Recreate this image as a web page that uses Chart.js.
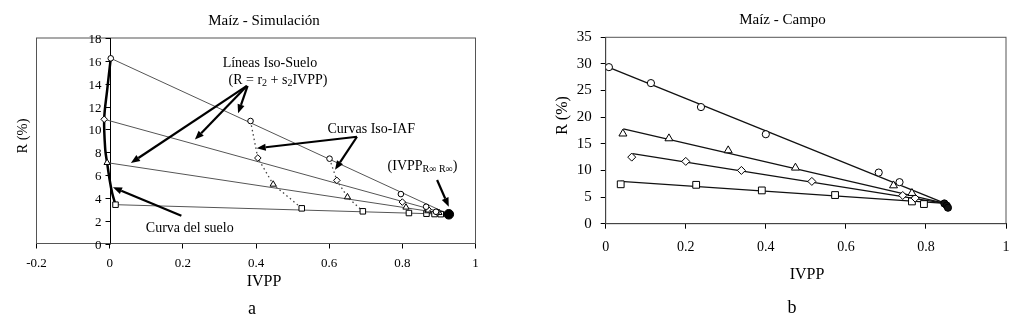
<!DOCTYPE html>
<html>
<head>
<meta charset="utf-8">
<script src="https://cdn.jsdelivr.net/npm/chart.js"></script>
<style>
  body { margin: 0; background: #fff; width: 1022px; height: 324px; overflow: hidden; position: relative; }
  canvas { position: absolute; top: 0; }
  #simCanvas { left: 0; }
  #campoCanvas { left: 510px; }
</style>
</head>
<body>
<canvas id="simCanvas" width="510" height="324"></canvas>
<canvas id="campoCanvas" width="512" height="324"></canvas>
<script>
// ---------------- data: a) Maiz - Simulacion ----------------
const simTicksX = [-0.2, 1, 0.2];   // min, max, step
const simTicksY = [0, 18, 2];

const simCircX = [0.003, 0.385, 0.601, 0.796, 0.865, 0.892];
const simCircY = [16.22, 10.73, 7.43, 4.33, 3.22, 2.78];
const simDiamX = [-0.015, 0.405, 0.621, 0.800, 0.870, 0.895];
const simDiamY = [10.88, 7.49, 5.53, 3.63, 3.00, 2.75];
const simTriX = [-0.007, 0.447, 0.650, 0.810, 0.870, 0.900];
const simTriY = [7.08, 5.18, 4.07, 3.17, 2.85, 2.70];
const simSqX = [0.016, 0.525, 0.692, 0.818, 0.866, 0.888, 0.905];
const simSqY = [3.40, 3.08, 2.82, 2.67, 2.61, 2.58, 2.57];
const simEndX = [0.927];   // (IVPP R-inf, R-inf)
const simEndY = [2.56];

// curva del suelo
const soilX = [0.003, -0.007, -0.015, -0.012, -0.007, 0.000, 0.007, 0.016];
const soilY = [16.22, 13.4, 10.88, 8.2, 7.08, 5.56, 4.40, 3.40];
// curvas iso-IAF (dotted)
const iaf1X = [0.385, 0.405, 0.447, 0.525];
const iaf1Y = [10.73, 7.49, 5.18, 3.08];
const iaf2X = [0.601, 0.621, 0.650, 0.692];
const iaf2Y = [7.43, 5.53, 4.07, 2.82];

// ---------------- data: b) Maiz - Campo ----------------
const campoTicksX = [0, 1, 0.2];
const campoTicksY = [0, 35, 5];

const campoCircX = [0.008, 0.113, 0.238, 0.400, 0.682, 0.734];
const campoCircY = [29.4, 26.4, 21.9, 16.8, 9.6, 7.8];
const campoTriX = [0.043, 0.158, 0.306, 0.474, 0.719, 0.765];
const campoTriY = [16.9, 16.0, 13.75, 10.5, 7.17, 5.74];
const campoDiamX = [0.065, 0.200, 0.339, 0.515, 0.742, 0.773];
const campoDiamY = [12.5, 11.7, 10.0, 7.94, 5.3, 4.8];
const campoSqX = [0.0375, 0.226, 0.390, 0.573, 0.765, 0.795];
const campoSqY = [7.4, 7.3, 6.25, 5.38, 4.18, 3.69];
const campoEndX = [0.846, 0.852, 0.855];
const campoEndY = [3.8, 3.4, 3.0];
// fitted lines: start x, start y (all end at the common point)
const campoFitX0 = [0.0, 0.044, 0.067, 0.0375];
const campoFitY0 = [29.6, 17.8, 13.15, 7.94];
const campoFitEnd = [0.848, 3.8];

// ---------------- helpers ----------------
const SERIF = "'Liberation Serif', 'Times New Roman', serif";
const pts = (xs, ys) => xs.map((x, i) => ({ x: x, y: ys[i] }));
const fmt = v => String(Math.round(v * 100) / 100 || 0);

const markers = (xs, ys, style, r, fill) => ({
  data: pts(xs, ys), showLine: false, order: 0,
  pointStyle: style, pointRadius: r,
  pointBackgroundColor: fill || '#fff', pointBorderColor: '#000', pointBorderWidth: 1
});
const line = (xs, ys, color, w, dash, tension) => ({
  data: pts(xs, ys), showLine: true, order: 1,
  borderColor: color, borderWidth: w, borderDash: dash || [],
  pointRadius: 0, tension: tension || 0, fill: false
});

function arrow(ctx, x1, y1, x2, y2) {
  const a = Math.atan2(y2 - y1, x2 - x1);
  const L = 9, W = 3.6;
  const bx = x2 - L * Math.cos(a), by = y2 - L * Math.sin(a);
  ctx.beginPath(); ctx.moveTo(x1, y1); ctx.lineTo(bx, by); ctx.stroke();
  ctx.beginPath(); ctx.moveTo(x2, y2);
  ctx.lineTo(bx + W * Math.sin(a), by - W * Math.cos(a));
  ctx.lineTo(bx - W * Math.sin(a), by + W * Math.cos(a));
  ctx.closePath(); ctx.fill();
}

// parts: [text, size, dy]
function richText(ctx, parts, cx, cy) {
  let total = 0;
  parts.forEach(p => { ctx.font = p[1] + 'px ' + SERIF; total += ctx.measureText(p[0]).width; });
  let x = cx - total / 2;
  ctx.textAlign = 'left'; ctx.textBaseline = 'middle';
  parts.forEach(p => {
    ctx.font = p[1] + 'px ' + SERIF;
    ctx.fillText(p[0], x, cy + p[2]);
    x += ctx.measureText(p[0]).width;
  });
}

function txt(ctx, s, x, y, size, rot) {
  ctx.save();
  ctx.font = size + 'px ' + SERIF;
  ctx.fillStyle = '#000';
  ctx.textAlign = 'center'; ctx.textBaseline = 'middle';
  ctx.translate(x, y);
  if (rot) ctx.rotate(rot);
  ctx.fillText(s, 0, 0);
  ctx.restore();
}

function frame(chart) {
  const a = chart.chartArea, ctx = chart.ctx;
  ctx.save();
  ctx.strokeStyle = '#555'; ctx.lineWidth = 1;
  ctx.strokeRect(a.left, a.top, a.right - a.left, a.bottom - a.top);
  ctx.restore();
}

const axisBase = (t, size, pad) => ({
  type: 'linear', min: t[0], max: t[1],
  ticks: { stepSize: t[2], color: '#000', font: { family: SERIF, size: size }, padding: pad, callback: fmt },
  grid: { display: true, drawOnChartArea: false, drawTicks: true, tickLength: 5, color: '#000' },
  border: { display: true, color: '#000', width: 1 }
});

// ---------------- annotations (a), in data units ----------------
const simArrows = [
  [0.375, 13.8, 0.058, 7.05],
  [0.375, 13.8, 0.233, 9.10],
  [0.377, 13.8, 0.351, 11.4],
  [0.676, 9.35, 0.402, 8.34],
  [0.676, 9.35, 0.616, 6.45],
  [0.895, 5.56, 0.927, 3.22],
  [0.196, 2.43, 0.009, 4.92]
];

const simDecor = {
  id: 'simDecor',
  beforeDatasetsDraw(chart) {
    frame(chart);
    // y axis sits at x = 0: ticks and labels to its left
    const ctx = chart.ctx, sx = chart.scales.x, sy = chart.scales.y;
    const x0 = Math.round(sx.getPixelForValue(0)) + 0.5;
    ctx.save();
    ctx.strokeStyle = '#000'; ctx.lineWidth = 1;
    ctx.beginPath(); ctx.moveTo(x0, chart.chartArea.top); ctx.lineTo(x0, chart.chartArea.bottom); ctx.stroke();
    ctx.font = '13px ' + SERIF; ctx.fillStyle = '#000';
    ctx.textAlign = 'right'; ctx.textBaseline = 'middle';
    sy.ticks.forEach(t => {
      const y = Math.round(sy.getPixelForValue(t.value)) + 0.5;
      ctx.beginPath(); ctx.moveTo(x0, y); ctx.lineTo(x0 - 5, y); ctx.stroke();
      ctx.fillText(fmt(t.value), x0 - 9, y + 1);
    });
    ctx.restore();
  },
  afterDraw(chart) {
    const ctx = chart.ctx, sx = chart.scales.x, sy = chart.scales.y;
    const px = v => sx.getPixelForValue(v), py = v => sy.getPixelForValue(v);
    ctx.save();
    ctx.fillStyle = '#000'; ctx.strokeStyle = '#000'; ctx.lineWidth = 2.2;
    simArrows.forEach(a => arrow(ctx, px(a[0]), py(a[1]), px(a[2]), py(a[3])));
    ctx.fillStyle = '#000';
    richText(ctx, [['Líneas Iso-Suelo', 14, 0]], px(0.438), py(15.81));
    richText(ctx, [['(R = r', 14, 0], ['2', 10, 3], [' + s', 14, 0], ['2', 10, 3], ['IVPP)', 14, 0]], px(0.46), py(14.32));
    richText(ctx, [['Curvas Iso-IAF', 14, 0]], px(0.715), py(10.03));
    richText(ctx, [['(IVPP', 14, 0], ['R\u221E R\u221E', 10, 3], [')', 14, 0]], px(0.855), py(6.72));
    richText(ctx, [['Curva del suelo', 14, 0]], px(0.219), py(1.33));
    ctx.restore();
    txt(ctx, 'Maíz - Simulación', 264, 21.5, 15);
    txt(ctx, 'IVPP', 264, 281.5, 16);
    txt(ctx, 'R (%)', 23.5, 136, 14.5, -Math.PI / 2);
    txt(ctx, 'a', 252, 309, 18);
  }
};

const campoDecor = {
  id: 'campoDecor',
  beforeDatasetsDraw(chart) { frame(chart); },
  afterDraw(chart) {
    const ctx = chart.ctx;
    txt(ctx, 'Maíz - Campo', 272.5, 20.5, 15);
    txt(ctx, 'IVPP', 297, 275, 16);
    txt(ctx, 'R (%)', 53, 115.5, 16, -Math.PI / 2);
    txt(ctx, 'b', 282, 308, 18);
  }
};

// ---------------- chart a ----------------
const simX = axisBase(simTicksX, 13, 7);
simX.position = 'bottom';
simX.afterFit = s => { s.height = 80.5; };
const simY = axisBase(simTicksY, 13, 5);
simY.position = { x: 0 };
simY.ticks.display = false;
simY.grid.display = false;
simY.border.display = false;

new Chart(document.getElementById('simCanvas'), {
  type: 'scatter',
  data: {
    datasets: [
      markers(simEndX, simEndY, 'circle', 4.8, '#000'),
      markers(simCircX, simCircY, 'circle', 2.8),
      markers(simDiamX, simDiamY, 'rectRot', 3.3),
      markers(simTriX, simTriY, 'triangle', 3.6),
      markers(simSqX, simSqY, 'rect', 3.9),
      line([simCircX[0], simEndX[0]], [simCircY[0], simEndY[0]], '#555', 1),
      line([simDiamX[0], simEndX[0]], [simDiamY[0], simEndY[0]], '#555', 1),
      line([simTriX[0], simEndX[0]], [simTriY[0], simEndY[0]], '#555', 1),
      line([simSqX[0], simEndX[0]], [simSqY[0], simEndY[0]], '#555', 1),
      line(iaf1X, iaf1Y, '#444', 1.3, [1.5, 3]),
      line(iaf2X, iaf2Y, '#444', 1.3, [1.5, 3]),
      line(soilX, soilY, '#000', 2.5, [], 0.35)
    ]
  },
  options: {
    responsive: false, animation: false, devicePixelRatio: 1,
    layout: { padding: { left: 36.5, right: 34.5, top: 38, bottom: 0 } },
    plugins: { legend: { display: false }, tooltip: { enabled: false }, title: { display: false } },
    scales: { x: simX, y: simY }
  },
  plugins: [simDecor]
});

// ---------------- chart b ----------------
const campoX = axisBase(campoTicksX, 14, 10);
campoX.position = 'bottom';
campoX.afterFit = s => { s.height = 100.3; };
const campoY = axisBase(campoTicksY, 15, 9);
campoY.position = 'left';
campoY.afterFit = s => { s.width = 95.7; };

const campoFits = campoFitX0.map((x0, i) =>
  line([x0, campoFitEnd[0]], [campoFitY0[i], campoFitEnd[1]], '#111', 1.3));

new Chart(document.getElementById('campoCanvas'), {
  type: 'scatter',
  data: {
    datasets: [
      markers(campoEndX, campoEndY, 'circle', 3.6, '#111'),
      markers(campoCircX, campoCircY, 'circle', 3.6),
      markers(campoTriX, campoTriY, 'triangle', 4.6),
      markers(campoDiamX, campoDiamY, 'rectRot', 4.0),
      markers(campoSqX, campoSqY, 'rect', 4.8)
    ].concat(campoFits)
  },
  options: {
    responsive: false, animation: false, devicePixelRatio: 1,
    layout: { padding: { left: 0, right: 16, top: 37.3, bottom: 0 } },
    plugins: { legend: { display: false }, tooltip: { enabled: false }, title: { display: false } },
    scales: { x: campoX, y: campoY }
  },
  plugins: [campoDecor]
});
</script>
</body>
</html>
